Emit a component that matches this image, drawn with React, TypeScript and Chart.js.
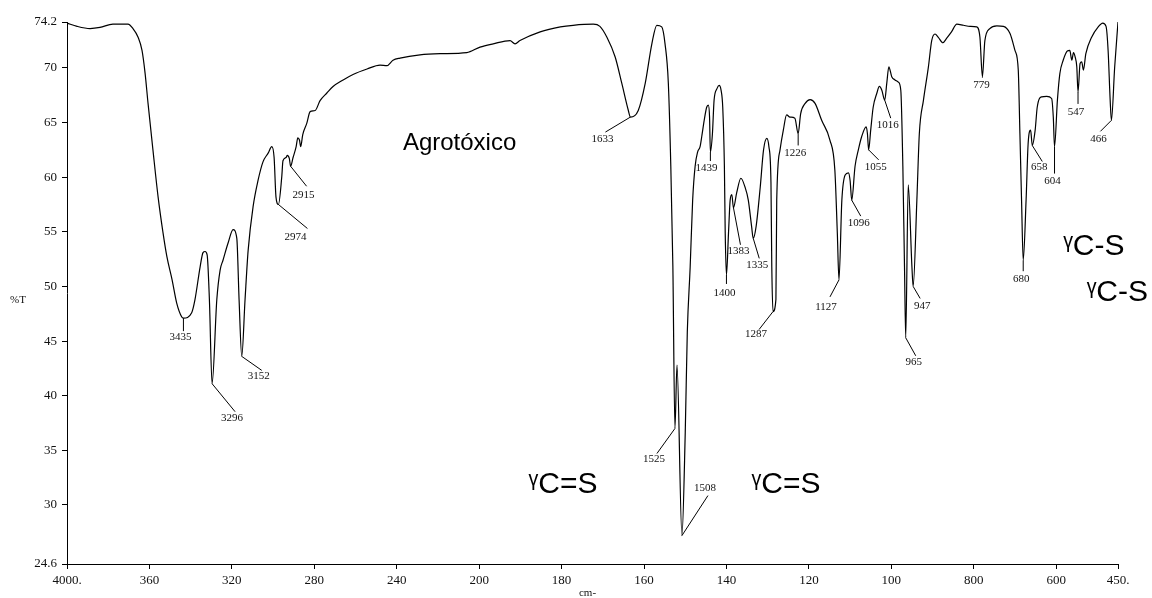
import React, { useEffect, useRef } from 'react';
import { Chart, registerables, LinearScale } from 'chart.js';

Chart.register(...registerables);

// ---------- data ----------
const wavenumbers = [
  4000, 3951, 3888, 3840, 3777, 3704, 3680, 3655, 3636, 3621, 3607, 3583, 3558, 3534, 3515, 3490, 3468, 3443, 3435, 3395,
  3379, 3354, 3340, 3330, 3320, 3309, 3296, 3273, 3257, 3243, 3218, 3194, 3176, 3165, 3152, 3136, 3121, 3097, 3073, 3049,
  3024, 3006, 2995, 2986, 2974, 2958, 2952, 2937, 2931, 2921, 2915, 2903, 2888, 2880, 2872, 2866, 2856, 2837, 2820, 2796,
  2772, 2739, 2709, 2660, 2612, 2544, 2481, 2448, 2418, 2384, 2287, 2189, 2060, 1998, 1966, 1925, 1913, 1901, 1852, 1803,
  1772, 1723, 1707, 1690, 1670, 1654, 1638, 1633, 1614, 1597, 1581, 1569, 1557, 1549, 1541, 1535, 1530, 1525, 1520, 1508,
  1500, 1495, 1488, 1482, 1476, 1470, 1464, 1460, 1454, 1448, 1444, 1441, 1439, 1434, 1430, 1423, 1418, 1413, 1409, 1405,
  1403, 1400, 1395, 1391, 1387, 1383, 1375, 1365, 1355, 1347, 1339, 1335, 1328, 1318, 1310, 1302, 1297, 1292, 1290, 1287,
  1280, 1278, 1270, 1262, 1254, 1246, 1234, 1226, 1220, 1209, 1197, 1185, 1169, 1149, 1137, 1131, 1127, 1120, 1112, 1104,
  1100, 1096, 1088, 1080, 1072, 1061, 1058, 1055, 1050, 1044, 1035, 1029, 1023, 1016, 1011, 1006, 999, 991, 983, 977,
  972, 968, 965, 959, 950, 947, 938, 932, 922, 910, 902, 894, 886, 875, 866, 854, 841, 825, 809, 793,
  785, 779, 773, 761, 744, 728, 712, 700, 692, 688, 684, 680, 673, 668, 662, 658, 651, 646, 635, 623,
  611, 607, 604, 597, 591, 583, 573, 567, 562, 558, 554, 550, 547, 542, 538, 534, 528, 514, 498, 487,
  479, 474, 469, 466, 458, 450,
];
const transmittance = [
  74.1, 73.8, 73.6, 73.7, 74.0, 74.0, 73.6, 72.8, 71.6, 69.5, 66.8, 62.5, 58.2, 54.9, 52.7, 50.6, 48.5, 47.2, 47.1, 47.6,
  48.8, 51.8, 53.1, 53.2, 52.9, 48.8, 41.1, 48.8, 51.5, 52.4, 54.0, 55.2, 54.4, 48.8, 43.6, 48.8, 53.3, 57.3, 59.7, 61.4,
  62.2, 62.8, 61.8, 58.2, 57.5, 60.0, 61.5, 61.8, 62.0, 61.7, 61.0, 61.8, 62.8, 63.6, 63.4, 62.8, 63.9, 64.9, 66.0, 66.1,
  67.0, 67.7, 68.3, 68.9, 69.4, 69.9, 70.25, 70.2, 70.7, 70.9, 71.2, 71.3, 71.4, 71.9, 72.2, 72.5, 72.2, 72.5, 73.3, 73.75,
  73.9, 74.0, 73.8, 72.8, 71.0, 68.6, 66.1, 65.5, 66.1, 68.6, 72.2, 73.9, 73.75, 72.2, 68.6, 61.0, 51.8, 37.0, 42.8, 27.2,
  36.6, 45.8, 51.8, 57.9, 61.0, 62.3, 62.8, 63.7, 65.2, 66.4, 66.6, 65.5, 62.3, 64.0, 67.05, 68.1, 68.4, 67.95, 66.4, 61.0,
  54.9, 51.05, 54.9, 57.9, 58.4, 57.2, 58.6, 59.9, 59.1, 57.9, 55.5, 54.4, 55.5, 59.1, 62.5, 63.55, 62.8, 59.5, 51.8, 47.7,
  48.8, 57.9, 62.5, 64.3, 65.7, 65.5, 65.4, 64.0, 65.8, 66.75, 67.1, 66.75, 65.2, 63.4, 60.65, 54.9, 50.6, 57.9, 60.2, 60.4,
  59.7, 57.9, 61.0, 62.5, 63.7, 64.6, 64.0, 62.5, 64.3, 66.4, 67.7, 68.3, 67.95, 67.05, 68.6, 70.1, 69.2, 68.9, 68.7, 67.95,
  61.0, 51.8, 45.3, 59.3, 51.8, 50.0, 57.9, 64.0, 67.05, 70.1, 72.5, 73.1, 72.8, 72.3, 72.7, 73.3, 74.0, 73.9, 73.8, 73.75,
  72.8, 69.2, 72.5, 73.6, 73.85, 73.8, 73.15, 71.6, 69.8, 64.0, 57.9, 52.4, 57.9, 63.1, 64.3, 62.9, 64.3, 66.4, 67.35, 67.4,
  67.2, 65.5, 62.8, 67.05, 69.5, 70.7, 71.55, 71.6, 70.7, 71.4, 71.0, 70.1, 67.8, 70.4, 70.55, 69.8, 71.3, 72.8, 73.75, 74.1,
  73.8, 71.6, 67.05, 65.2, 70.1, 74.2,
];

const xTickValues = [4000, 3600, 3200, 2800, 2400, 2000, 1800, 1600, 1400, 1200, 1000, 800, 600, 450];
const xTickLabels = ['4000.', '360', '320', '280', '240', '200', '180', '160', '140', '120', '100', '800', '600', '450.'];
const yTickValues = [24.6, 30, 35, 40, 45, 50, 55, 60, 65, 70, 74.2];
const yTickLabels = ['24.6', '30', '35', '40', '45', '50', '55', '60', '65', '70', '74.2'];

const peakWavenumbers = [3435, 3296, 3152, 2974, 2915, 1633, 1525, 1508, 1439, 1400, 1383, 1335, 1287, 1226, 1127, 1096, 1055, 1016, 965, 947, 779, 680, 658, 604, 547, 466];
// [leader dx, leader dy, label dx, label dy] in pixels relative to the peak
const peakLabelOffsets = [
  [0, 13, -3, 19], [23, 28, 20, 34], [20, 14, 17, 20], [29, 24, 17, 33], [16, 20, 13, 29],
  [-25, 15, -28, 22], [-18, 25, -21, 31], [26, -40, 23, -47], [0, 9, -4, 16], [0, 9, -2, 18],
  [7, 37, 5, 43], [6, 20, 4, 27], [-14, 18, -17, 23], [0, 12, -3, 20], [-9, 17, -13, 27],
  [9, 16, 7, 23], [10, 10, 7, 17], [6, 18, 3, 25], [10, 18, 8, 24], [7, 12, 9, 20],
  [0, 1, -1, 8], [0, 11, -2, 19], [10, 16, 7, 22], [0, 27, -2, 35], [0, 12, -2, 20], [-11, 11, -13, 19],
];

const bandTexts = ['Agrotóxico', 'ᵞC=S', 'ᵞC=S', 'ᵞC-S', 'ᵞC-S'];
const bandTextWavenumbers = [2370, 1880, 1339, 583, 526];
const bandTextValues = [62.5, 31.1, 31.1, 52.9, 48.7];
const bandTextSizes = [24, 30, 30, 30, 30];

// ---------- split wavenumber scale (2x expansion below 2000 cm-1) ----------
const fwd = (w: number) => (w <= 2000 ? w : 2000 + (w - 2000) / 2);
const inv = (p: number) => (p <= 2000 ? p : 2000 + (p - 2000) * 2);

class SplitWavenumberScale extends LinearScale {
  static id = 'splitWavenumber';
  static defaults = (LinearScale as any).defaults;
  getPixelForValue(value: number) {
    if (value === null || value === undefined) return NaN;
    const a = fwd(this.min);
    const b = fwd(this.max);
    return this.getPixelForDecimal((fwd(value) - a) / (b - a));
  }
  getValueForPixel(pixel: number) {
    const a = fwd(this.min);
    const b = fwd(this.max);
    return inv(a + this.getDecimalForPixel(pixel) * (b - a));
  }
}
Chart.register(SplitWavenumberScale as any);

const valueAt = (w: number) => {
  let best = 0;
  for (let i = 0; i < wavenumbers.length; i++) {
    if (Math.abs(wavenumbers[i] - w) < Math.abs(wavenumbers[best] - w)) best = i;
  }
  return transmittance[best];
};

const SERIF = '"Liberation Serif", "Times New Roman", serif';
const SANS = '"Liberation Sans", Arial, "DejaVu Sans", sans-serif';

const annotationPlugin = {
  id: 'irAnnotations',
  afterDraw(chart: any) {
    const { ctx } = chart;
    const x = chart.scales.x;
    const y = chart.scales.y;
    ctx.save();
    ctx.strokeStyle = '#000';
    ctx.lineWidth = 1;
    ctx.fillStyle = '#111';
    ctx.font = `11px ${SERIF}`;
    ctx.textAlign = 'center';
    ctx.textBaseline = 'middle';
    peakWavenumbers.forEach((w, i) => {
      const px = x.getPixelForValue(w);
      const py = y.getPixelForValue(valueAt(w));
      const [lx, ly, tx, ty] = peakLabelOffsets[i];
      ctx.beginPath();
      ctx.moveTo(px, py);
      ctx.lineTo(px + lx, py + ly);
      ctx.stroke();
      ctx.fillText(String(w), px + tx, py + ty);
    });

    ctx.fillStyle = '#000';
    ctx.textAlign = 'left';
    ctx.textBaseline = 'alphabetic';
    bandTexts.forEach((t, i) => {
      ctx.font = `${bandTextSizes[i]}px ${SANS}`;
      ctx.fillText(t, x.getPixelForValue(bandTextWavenumbers[i]), y.getPixelForValue(bandTextValues[i]));
    });

    ctx.font = `11px ${SERIF}`;
    ctx.fillStyle = '#111';
    ctx.textBaseline = 'middle';
    ctx.textAlign = 'left';
    ctx.fillText('%T', 10, (chart.chartArea.top + chart.chartArea.bottom) / 2 + 7);
    ctx.textAlign = 'center';
    ctx.fillText('cm-', (chart.chartArea.left + chart.chartArea.right) / 2 - 5, 593);
    ctx.restore();
  },
};

export default function App() {
  const canvasRef = useRef<HTMLCanvasElement | null>(null);

  useEffect(() => {
    document.body.style.margin = '0';
    const canvas = canvasRef.current;
    if (!canvas) return;
    const data = wavenumbers.map((w, i) => ({ x: w, y: transmittance[i] }));
    const chart = new Chart(canvas, {
      type: 'line',
      data: {
        datasets: [
          {
            data,
            borderColor: '#000',
            borderWidth: 1.2,
            pointRadius: 0,
            fill: false,
            cubicInterpolationMode: 'monotone',
          } as any,
        ],
      },
      options: {
        animation: false,
        responsive: false,
        maintainAspectRatio: false,
        parsing: true as any,
        layout: { padding: { top: 22, left: 0, right: 0, bottom: 0 } },
        plugins: { legend: { display: false }, tooltip: { enabled: false } },
        scales: {
          x: {
            type: 'splitWavenumber' as any,
            min: 450,
            max: 4000,
            reverse: true,
            afterBuildTicks: (s: any) => {
              s.ticks = xTickValues.map((v) => ({ value: v }));
            },
            afterFit: (s: any) => {
              s.height = 34;
              s.paddingLeft = 0;
              s.paddingRight = 34;
            },
            ticks: {
              autoSkip: false,
              maxRotation: 0,
              minRotation: 0,
              padding: 4,
              color: '#111',
              font: { family: SERIF, size: 13 },
              callback: (v: any) => xTickLabels[xTickValues.indexOf(Number(v))] ?? '',
            },
            grid: { drawOnChartArea: false, tickLength: 5, color: '#000' },
            border: { color: '#000', width: 1 },
          } as any,
          y: {
            type: 'linear',
            min: 24.6,
            max: 74.2,
            afterBuildTicks: (s: any) => {
              s.ticks = yTickValues.map((v) => ({ value: v }));
            },
            afterFit: (s: any) => {
              s.width = 67;
              s.paddingTop = 0;
              s.paddingBottom = 0;
            },
            ticks: {
              autoSkip: false,
              padding: 5,
              color: '#111',
              font: { family: SERIF, size: 13 },
              callback: (v: any) => yTickLabels[yTickValues.indexOf(Number(v))] ?? '',
            },
            grid: { drawOnChartArea: false, tickLength: 5, color: '#000' },
            border: { color: '#000', width: 1 },
          },
        },
      },
      plugins: [annotationPlugin],
    });
    return () => chart.destroy();
  }, []);

  return (
    <div style={{ width: 1152, height: 598, background: '#fff' }}>
      <canvas ref={canvasRef} width={1152} height={598} style={{ display: 'block' }} />
    </div>
  );
}
